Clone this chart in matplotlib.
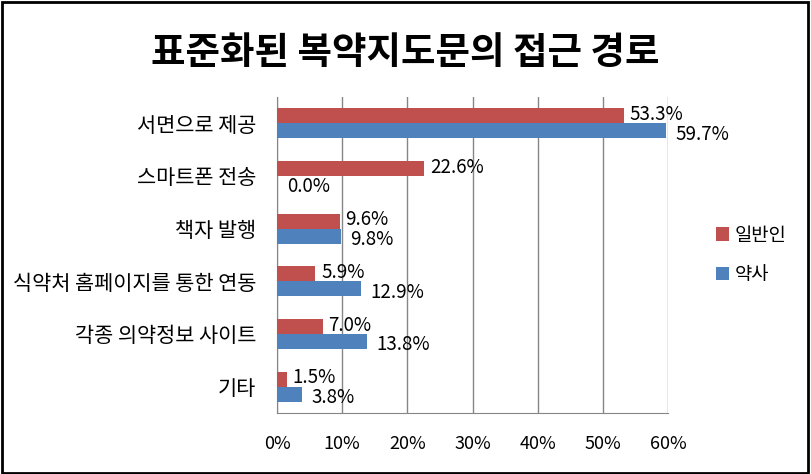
import numpy as np
import matplotlib
matplotlib.use('Agg')
import matplotlib.pyplot as plt
from matplotlib.patches import Rectangle

plt.rcParams['font.family'] = ['Noto Sans CJK KR', 'DejaVu Sans']

# 데이터
categories = ['서면으로 제공', '스마트폰 전송', '책자 발행',
              '식약처 홈페이지를 통한 연동', '각종 의약정보 사이트', '기타']
general = [53.3, 22.6, 9.6, 5.9, 7.0, 1.5]     # 일반인
pharmacist = [59.7, 0.0, 9.8, 12.9, 13.8, 3.8]  # 약사
xticks = [0, 10, 20, 30, 40, 50, 60]

red = '#C0504D'
blue = '#4F81BD'

fig = plt.figure(figsize=(8.11, 4.74), dpi=100)
ax = fig.add_axes([0.3416, 0.1287, 0.4821, 0.6667])

y = np.arange(len(categories))
h = 0.285
ax.barh(y - h / 2, general, height=h, color=red, label='일반인', zorder=3)
ax.barh(y + h / 2, pharmacist, height=h, color=blue, label='약사', zorder=3)

# 값 라벨
for yi, v in zip(y, general):
    ax.annotate(f'{v:.1f}%', (v, yi - h / 2), xytext=(4, 1), textcoords='offset points',
                va='center', ha='left', fontsize=13.5, zorder=4)
for yi, v in zip(y, pharmacist):
    ax.annotate(f'{v:.1f}%', (v, yi + h / 2), xytext=(7, -2.5), textcoords='offset points',
                va='center', ha='left', fontsize=13.5, zorder=4)

ax.set_xlim(0, 60)
ax.set_ylim(len(categories) - 0.5, -0.5)
ax.set_yticks(y)
ax.set_yticklabels(categories, fontsize=15)
ax.set_xticks(xticks)
ax.set_xticklabels([f'{t}%' for t in xticks], fontsize=13)
ax.tick_params(axis='both', length=0)
ax.tick_params(axis='x', pad=16)
ax.tick_params(axis='y', pad=15)
ax.grid(axis='x', color='#868686', linewidth=1, zorder=0)
for s in ['top', 'right']:
    ax.spines[s].set_visible(False)
for s in ['left', 'bottom']:
    ax.spines[s].set_color('#868686')

ax.legend(loc='center left', bbox_to_anchor=(1.08, 0.5), frameon=False,
          fontsize=13.5, handlelength=0.7, handleheight=0.7, handletextpad=0.3,
          labelspacing=1.0)

fig.text(0.5, 0.89, '표준화된 복약지도문의 접근 경로', ha='center', va='center',
         fontsize=27, fontweight='bold')

fig.patches.append(Rectangle((0.002, 0.003), 0.994, 0.992, transform=fig.transFigure,
                             fill=False, edgecolor='black', linewidth=2))

fig.savefig('out.png', dpi=100)
